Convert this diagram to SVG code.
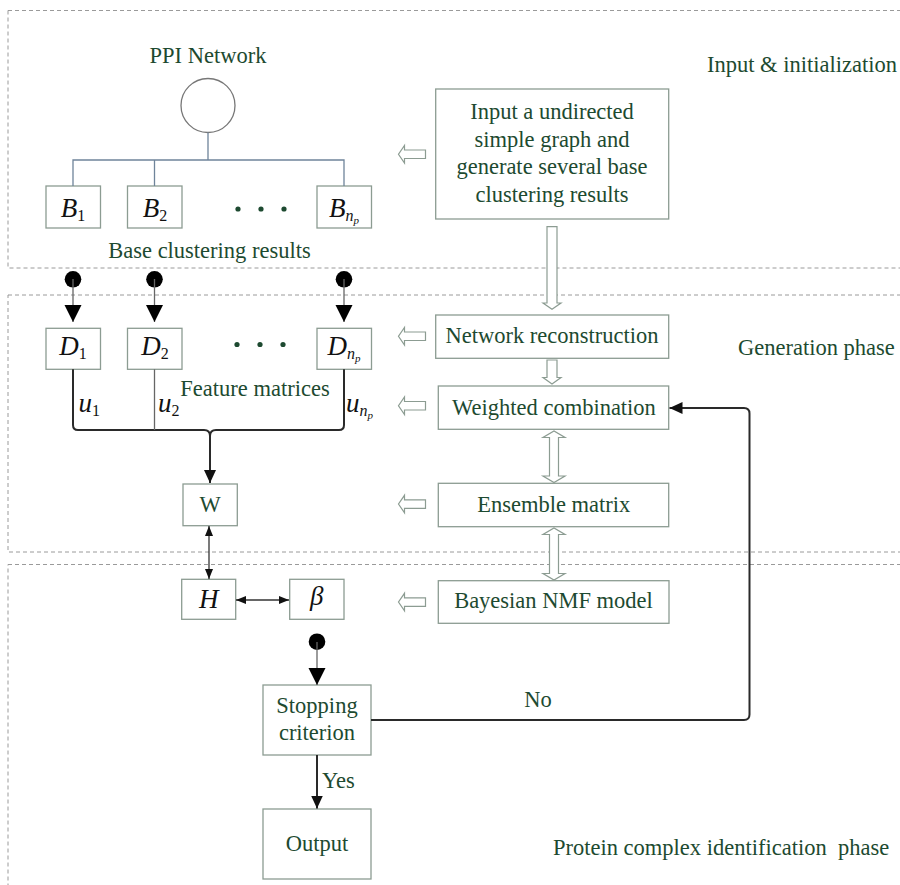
<svg xmlns="http://www.w3.org/2000/svg" width="900" height="885" viewBox="0 0 900 885">
<style>
  .lbl { font-family: "Liberation Serif", "Times New Roman", serif; font-size: 22.5px; fill: #1d4a30; }
  .math { font-family: "Liberation Serif", "Times New Roman", serif; font-size: 27px; fill: #111; }
  .it { font-style: italic; }
  .box { fill: #fff; stroke: #8c9c92; stroke-width: 1.3; }
  .panel { fill: none; stroke: #9a9a9a; stroke-width: 1; stroke-dasharray: 4 3; }
  .hollow { fill: #fff; stroke: #8c9c92; stroke-width: 1.2; }
  .tree { fill: none; stroke: #6f849a; stroke-width: 1.3; }
  .thick { fill: none; stroke: #2a2a2a; stroke-width: 2; }
  .thin { fill: none; stroke: #333; stroke-width: 1.3; }
  .grey { fill: none; stroke: #666; stroke-width: 1.3; }
  .dot { fill: #000; }
  .gdot { fill: #1d4a30; }
</style>
<defs>
  <marker id="arr" markerUnits="userSpaceOnUse" markerWidth="10" markerHeight="10" refX="10" refY="4" orient="auto-start-reverse">
    <path d="M0,0 L10,4 L0,8 Z" fill="#111"/>
  </marker>
  <marker id="arrB" markerUnits="userSpaceOnUse" markerWidth="14" markerHeight="14" refX="13" refY="6" orient="auto">
    <path d="M0,0 L13,6 L0,12 Z" fill="#111"/>
  </marker>
  <marker id="big" markerUnits="userSpaceOnUse" markerWidth="18" markerHeight="18" refX="17" refY="8.5" orient="auto">
    <path d="M0,0 L17,8.5 L0,17 Z" fill="#000"/>
  </marker>
</defs>

<rect width="900" height="885" fill="#fff"/>

<!-- phase panels -->
<g id="panels">
  <rect class="panel" x="8" y="10.5" width="910" height="257.5"/>
  <rect class="panel" x="8" y="295" width="910" height="257"/>
  <rect class="panel" x="8" y="564.5" width="910" height="340"/>
  <text class="lbl" x="707" y="72">Input &amp; initialization</text>
  <text class="lbl" x="738" y="355">Generation phase</text>
  <text class="lbl" x="553" y="855" xml:space="preserve">Protein complex identification  phase</text>
</g>

<!-- nodes -->
<g id="ppi">
  <text class="lbl" x="208" y="63" text-anchor="middle">PPI Network</text>
  <circle cx="208" cy="105.5" r="27" fill="#fff" stroke="#777" stroke-width="1.3"/>
</g>
<g id="B1"><rect class="box" x="46" y="186" width="54.5" height="42"/>
  <text class="math" x="73" y="216.5" text-anchor="middle"><tspan class="it">B</tspan><tspan font-size="16" dy="4">1</tspan></text></g>
<g id="B2"><rect class="box" x="127.5" y="186" width="54.5" height="42"/>
  <text class="math" x="155" y="216.5" text-anchor="middle"><tspan class="it">B</tspan><tspan font-size="16" dy="4">2</tspan></text></g>
<g id="Bdots"><circle class="gdot" cx="238" cy="209" r="2.6"/><circle class="gdot" cx="261" cy="209" r="2.6"/><circle class="gdot" cx="284" cy="209" r="2.6"/></g>
<g id="Bnp"><rect class="box" x="317" y="186" width="54.5" height="42"/>
  <text class="math" x="344" y="216.5" text-anchor="middle"><tspan class="it">B</tspan><tspan class="it" font-size="16" dy="4">n</tspan><tspan class="it" font-size="11" dy="3">p</tspan></text></g>
<g id="base-label"><text class="lbl" x="209.5" y="258" text-anchor="middle">Base clustering results</text></g>

<g id="input-box"><rect class="box" x="435.7" y="89" width="233" height="130"/>
  <text class="lbl" x="552" y="119.3" text-anchor="middle">Input a undirected</text>
  <text class="lbl" x="552" y="146.7" text-anchor="middle">simple graph and</text>
  <text class="lbl" x="552" y="174" text-anchor="middle">generate several base</text>
  <text class="lbl" x="552" y="201.5" text-anchor="middle">clustering results</text></g>

<g id="D1"><rect class="box" x="46" y="328.3" width="54.5" height="41"/>
  <text class="math" x="73" y="354.5" text-anchor="middle"><tspan class="it">D</tspan><tspan font-size="16" dy="4">1</tspan></text></g>
<g id="D2"><rect class="box" x="127.5" y="328.3" width="54.5" height="41"/>
  <text class="math" x="155" y="354.5" text-anchor="middle"><tspan class="it">D</tspan><tspan font-size="16" dy="4">2</tspan></text></g>
<g id="Ddots"><circle class="gdot" cx="237" cy="344.5" r="2.6"/><circle class="gdot" cx="260" cy="344.5" r="2.6"/><circle class="gdot" cx="283" cy="344.5" r="2.6"/></g>
<g id="Dnp"><rect class="box" x="317" y="328.3" width="54.5" height="41"/>
  <text class="math" x="344" y="354.5" text-anchor="middle"><tspan class="it">D</tspan><tspan class="it" font-size="16" dy="4">n</tspan><tspan class="it" font-size="11" dy="3">p</tspan></text></g>
<g id="feature-label"><text class="lbl" x="255" y="396" text-anchor="middle">Feature matrices</text></g>

<g id="W"><rect class="box" x="183" y="484" width="54.3" height="41.7"/>
  <text class="lbl" x="210" y="512" text-anchor="middle" font-size="25" fill="#111">W</text></g>

<g id="netrec"><rect class="box" x="435.7" y="315" width="233" height="43.3"/>
  <text class="lbl" x="552" y="343" text-anchor="middle">Network reconstruction</text></g>
<g id="weighted"><rect class="box" x="438.3" y="386" width="230.4" height="43.3"/>
  <text class="lbl" x="554" y="415" text-anchor="middle">Weighted combination</text></g>
<g id="ensemble"><rect class="box" x="438.3" y="483.3" width="230.4" height="43.4"/>
  <text class="lbl" x="553.7" y="511.7" text-anchor="middle">Ensemble matrix</text></g>
<g id="bayes"><rect class="box" x="438.3" y="580.7" width="230.7" height="42.6"/>
  <text class="lbl" x="553.5" y="608.3" text-anchor="middle">Bayesian NMF model</text></g>

<g id="H"><rect class="box" x="181.7" y="579.3" width="54" height="40"/>
  <text class="math it" x="208.7" y="608" text-anchor="middle">H</text></g>
<g id="beta"><rect class="box" x="289.7" y="579.3" width="54.3" height="40"/>
  <text class="math it" x="316.8" y="605" text-anchor="middle">β</text></g>

<g id="stopping"><rect class="box" x="263" y="685" width="108" height="70"/>
  <text class="lbl" x="317" y="713.3" text-anchor="middle">Stopping</text>
  <text class="lbl" x="317" y="740" text-anchor="middle">criterion</text></g>
<g id="output"><rect class="box" x="263" y="809" width="108" height="70"/>
  <text class="lbl" x="317" y="851" text-anchor="middle">Output</text></g>

<!-- connectors -->
<g id="connectors">
  <!-- PPI tree -->
  <path class="tree" d="M208,132.5 V160 M73,186 V160 H344 V186 M154.5,160 V186"/>

  <!-- dots to D boxes -->
  <circle class="dot" cx="73" cy="279.3" r="8.3"/>
  <circle class="dot" cx="154.5" cy="279.3" r="8.3"/>
  <circle class="dot" cx="344" cy="279.3" r="8.3"/>
  <line class="grey" x1="73" y1="279" x2="73" y2="322" marker-end="url(#big)"/>
  <line class="grey" x1="154.5" y1="279" x2="154.5" y2="322" marker-end="url(#big)"/>
  <line class="grey" x1="344" y1="279" x2="344" y2="322" marker-end="url(#big)"/>

  <!-- D to W merge -->
  <path class="thick" d="M73,369.3 V425 Q73,430 78,430 H204 Q210,430 210,436"/>
  <path class="thick" d="M344,369.3 V425 Q344,430 339,430 H216 Q210,430 210,436 V483" marker-end="url(#arrB)"/>
  <line class="grey" x1="154.5" y1="369.3" x2="154.5" y2="430"/>
  <text class="math it" x="78.5" y="412" font-size="30">u<tspan font-style="normal" font-size="16" dy="4">1</tspan></text>
  <text class="math it" x="158" y="412" font-size="30">u<tspan font-style="normal" font-size="16" dy="4">2</tspan></text>
  <text class="math it" x="346" y="412" font-size="30">u<tspan font-size="16" dy="4">n</tspan><tspan font-size="11" dy="3">p</tspan></text>

  <!-- W <-> H, H <-> beta -->
  <line class="thin" x1="209" y1="526" x2="209" y2="579" marker-start="url(#arr)" marker-end="url(#arr)"/>
  <line class="thin" x1="236" y1="600" x2="289" y2="600" marker-start="url(#arr)" marker-end="url(#arr)"/>

  <!-- beta to stopping -->
  <circle class="dot" cx="317" cy="641.7" r="8.3"/>
  <line class="grey" x1="317" y1="642" x2="317" y2="685" marker-end="url(#big)"/>

  <!-- Yes -->
  <line class="thick" x1="317" y1="755" x2="317" y2="808.5" marker-end="url(#arrB)"/>
  <text class="lbl" x="322" y="788">Yes</text>

  <!-- No feedback -->
  <path class="thick" d="M371,720 H744 Q749.5,720 749.5,714.5 V413.5 Q749.5,408 744,408 H669.5" marker-end="url(#arrB)"/>
  <text class="lbl" x="538" y="707" text-anchor="middle">No</text>

  <!-- hollow left arrows -->
  <path class="hollow" d="M425.5,150 V158.5 H404.5 V163 L398.5,154.25 L404.5,145.5 V150 Z"/>
  <path class="hollow" d="M425.5,332 V340.5 H404.5 V345 L398.5,336.25 L404.5,327.5 V332 Z"/>
  <path class="hollow" d="M425.5,401.5 V410 H404.5 V414.5 L398.5,405.75 L404.5,397 V401.5 Z"/>
  <path class="hollow" d="M425.5,499.8 V508.3 H404.5 V512.8 L398.5,504 L404.5,495.3 V499.8 Z"/>
  <path class="hollow" d="M425.5,597.8 V606.3 H404.5 V610.8 L398.5,602 L404.5,593.3 V597.8 Z"/>

  <!-- hollow vertical arrows -->
  <path class="hollow" d="M547,226.7 H557 V303 H561 L552,309.3 L543,303 H547 Z"/>
  <path class="hollow" d="M547,360 H557 V377.5 H561 L552,384 L543,377.5 H547 Z"/>
  <path class="hollow" d="M549.5,437.5 H543 L554,431 L565,437.5 H558.5 V476 H565 L554,482.5 L543,476 H549.5 Z"/>
  <path class="hollow" d="M549.5,534.5 H543 L554,528 L565,534.5 H558.5 V573.5 H565 L554,580 L543,573.5 H549.5 Z"/>
</g>
</svg>
